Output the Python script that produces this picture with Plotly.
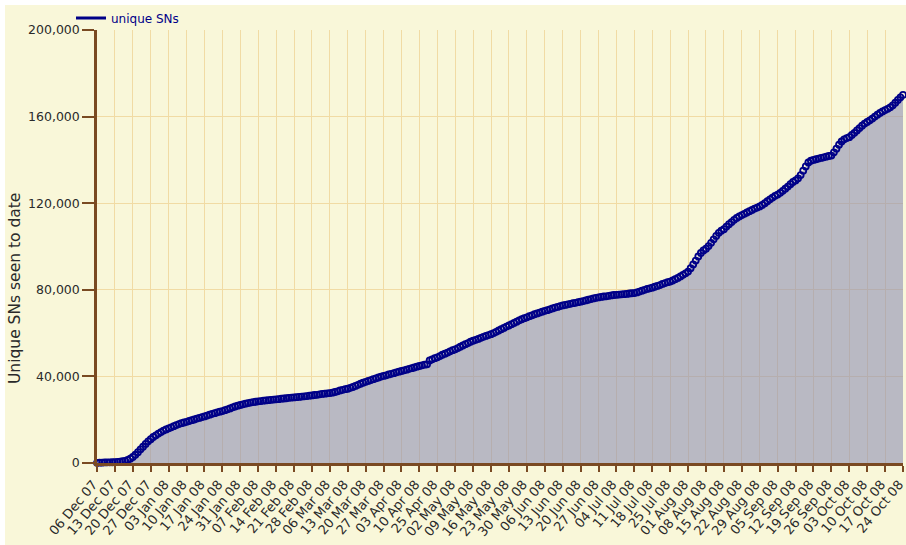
import plotly.graph_objects as go

# Weekly tick labels (categorical axis, one label every 7 samples)
tick_labels = [
    "06 Dec 07", "13 Dec 07", "20 Dec 07", "27 Dec 07", "03 Jan 08", "10 Jan 08",
    "17 Jan 08", "24 Jan 08", "31 Jan 08", "07 Feb 08", "14 Feb 08", "21 Feb 08",
    "28 Feb 08", "06 Mar 08", "13 Mar 08", "20 Mar 08", "27 Mar 08", "03 Apr 08",
    "10 Apr 08", "25 Apr 08", "02 May 08", "09 May 08", "16 May 08", "23 May 08",
    "30 May 08", "06 Jun 08", "13 Jun 08", "20 Jun 08", "27 Jun 08", "04 Jul 08",
    "11 Jul 08", "18 Jul 08", "25 Jul 08", "01 Aug 08", "08 Aug 08", "15 Aug 08",
    "22 Aug 08", "29 Aug 08", "05 Sep 08", "12 Sep 08", "19 Sep 08", "26 Sep 08",
    "03 Oct 08", "10 Oct 08", "17 Oct 08", "24 Oct 08",
]

# Daily cumulative unique SNs
unique_sns = [
    100, 150, 200, 250, 300, 300, 350,
    400, 500, 600, 800, 1000, 1400, 2000,
    2800, 3800, 5000, 6300, 7500, 8800, 10000,
    11000, 12000, 12800, 13600, 14300, 15000, 15500,
    16000, 16500, 17000, 17500, 18000, 18400, 18700,
    19000, 19400, 19800, 20100, 20500, 20800, 21200,
    21500, 21900, 22300, 22700, 23000, 23400, 23700,
    24000, 24400, 24800, 25200, 25700, 26100, 26500,
    26800, 27100, 27400, 27700, 27900, 28100, 28300,
    28500, 28600, 28800, 28900, 29000, 29200, 29300,
    29400, 29500, 29700, 29800, 29900, 30100, 30200,
    30300, 30400, 30500, 30700, 30800, 30900, 31100,
    31200, 31400, 31500, 31700, 31900, 32000, 32200,
    32300, 32500, 32800, 33100, 33500, 33800, 34100,
    34300, 34700, 35100, 35600, 36100, 36600, 37100,
    37500, 37900, 38300, 38700, 39100, 39500, 39900,
    40200, 40500, 40900, 41200, 41500, 41900, 42200,
    42500, 42800, 43100, 43500, 43800, 44100, 44500,
    44800, 45100, 45400, 45600, 47400, 47900, 48400,
    48800, 49400, 50000, 50500, 51000, 51600, 52100,
    52500, 53100, 53700, 54300, 54900, 55400, 56000,
    56500, 56900, 57300, 57800, 58300, 58700, 59100,
    59500, 60000, 60600, 61200, 61800, 62400, 63000,
    63500, 64100, 64700, 65300, 65900, 66400, 66900,
    67300, 67800, 68200, 68700, 69100, 69500, 69900,
    70300, 70600, 71000, 71400, 71800, 72100, 72500,
    72800, 73000, 73300, 73500, 73800, 74000, 74300,
    74500, 74800, 75100, 75400, 75700, 76000, 76300,
    76500, 76700, 76900, 77000, 77200, 77400, 77600,
    77700, 77800, 77900, 78000, 78100, 78300, 78400,
    78500, 78800, 79200, 79600, 80000, 80400, 80700,
    81000, 81400, 81800, 82200, 82700, 83100, 83500,
    83800, 84300, 84900, 85500, 86200, 86900, 87600,
    88400, 90000, 91700, 93500, 95400, 97000, 98200,
    99000, 100200, 101700, 103300, 104900, 106300, 107300,
    108000, 109200, 110300, 111300, 112300, 113200, 113900,
    114500, 115100, 115700, 116300, 116900, 117500, 118000,
    118500, 119200, 120000, 120900, 121800, 122600, 123400,
    124000, 124800, 125700, 126700, 127700, 128800, 129800,
    130500, 131500, 133000, 135000, 137000, 138800, 139600,
    140000, 140300, 140600, 140900, 141200, 141500, 141800,
    142000, 143500, 145200, 147000, 148500, 149500, 150100,
    150500, 151500, 152500, 153600, 154700, 155800, 156800,
    157500, 158300, 159100, 160000, 160900, 161700, 162400,
    163000, 163600, 164300, 165200, 166400, 167700, 168900,
    170000,
]

y_ticks = [0, 40000, 80000, 120000, 160000, 200000]

series_name = "unique SNs"
y_title = "Unique SNs seen to date"

BG = "#F9F7D9"
GRID = "#F1DBA4"
AXIS = "#7A4A22"
NAVY = "#000088"
TEXT = "#2a2a2a"

days = list(range(len(unique_sns)))
tick_pos = [i * 7 for i in range(len(tick_labels))]

fig = go.Figure()
fig.add_trace(go.Scatter(
    x=days, y=unique_sns, mode="markers", fill="tozeroy",
    fillcolor="rgba(146,147,181,0.62)",
    marker=dict(symbol="circle-open", size=6, color=NAVY, line=dict(width=1.8, color=NAVY)),
    cliponaxis=False, showlegend=False, name=series_name,
))
fig.add_trace(go.Scatter(
    x=[None], y=[None], mode="lines", line=dict(color=NAVY, width=3),
    name=series_name, showlegend=True,
))

L, R, T, B = 97, 3, 30, 82
W, H = 906, 545
pw, ph = W - L - R, H - T - B

def px(p):
    return (p - L) / pw

def py(q):
    return (H - B - q) / ph

fig.add_shape(type="rect", xref="paper", yref="paper",
              x0=px(5), x1=px(906), y0=py(545), y1=py(5),
              fillcolor=BG, line=dict(width=0), layer="below")

fig.add_annotation(text=y_title, xref="paper", yref="paper",
                   x=px(15), y=py(289), textangle=-90, showarrow=False,
                   xanchor="center", yanchor="middle",
                   font=dict(family="DejaVu Sans", size=15.5, color=TEXT))

fig.update_layout(
    width=W, height=H, autosize=False,
    margin=dict(l=L, r=R, t=T, b=B, pad=0, autoexpand=False),
    paper_bgcolor="white", plot_bgcolor=BG,
    font=dict(family="DejaVu Sans", size=13.5, color=TEXT),
    legend=dict(x=px(71), y=py(18), xanchor="left", yanchor="middle",
                bgcolor="rgba(0,0,0,0)", font=dict(size=12, color=NAVY),
                itemwidth=30),
    xaxis=dict(range=[0, len(unique_sns) - 1], tickvals=tick_pos, ticktext=tick_labels,
               tickangle=-50, showgrid=True, gridcolor=GRID, gridwidth=1,
               showline=True, linecolor=AXIS, linewidth=2.5, automargin=False,
               ticklabeloverflow="allow", ticklabelshift=-4, tickfont=dict(size=13),
               ticks="outside", ticklen=6, tickwidth=2, tickcolor=AXIS,
               zeroline=False, fixedrange=True),
    yaxis=dict(range=[0, 200000], tickvals=y_ticks, tickformat=",",
               tickfont=dict(size=12.5),
               showgrid=True, gridcolor=GRID, gridwidth=1,
               showline=True, linecolor=AXIS, linewidth=2.5, automargin=False,
               ticks="outside", ticklen=12, tickwidth=2, tickcolor=AXIS,
               zeroline=False, fixedrange=True),
)

fig.write_html("out.html", config={"displayModeBar": False},
               post_script="document.body.style.margin='0';document.body.style.padding='0';")
